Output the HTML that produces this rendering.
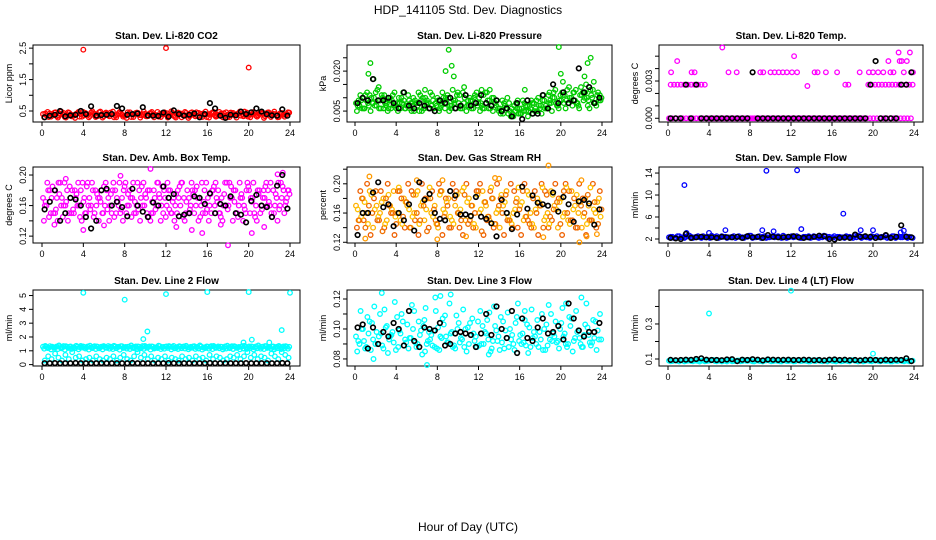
<!DOCTYPE html>
<html><head><meta charset="utf-8">
<style>
html,body{margin:0;padding:0;background:#fff;}
svg{display:block;font-family:"Liberation Sans",sans-serif;}
</style></head>
<body>
<svg id="chart" width="936" height="540" viewBox="0 0 936 540">
<text x="468" y="14" text-anchor="middle" font-size="12">HDP_141105  Std. Dev. Diagnostics</text>
<text x="468" y="531" text-anchor="middle" font-size="12">Hour of Day (UTC)</text>
</svg>
<script>
const xTicks=[0,4,8,12,16,20,24];
const co2A=[0.40,0.36,0.42,0.38,0.33,0.41,0.44,0.37,0.39,0.35,0.43,0.40,0.36,0.38,0.45,0.41,0.34,0.39,0.42,0.37,0.40,0.36,0.43,0.38,0.35,0.41,0.39,0.44,0.37,0.40,0.33,0.42,0.38,0.36,0.41,0.39,0.43,0.37,0.35,0.40,0.42,0.38,0.36,0.44,0.39,0.34,0.41,0.37,0.40,0.43,0.36,0.38,0.42,0.35,0.39,0.41,0.37,0.44,0.40,0.36,0.38,0.42,0.35,0.40,0.43,0.37,0.39,0.41,0.36,0.42,0.38,0.40];
const co2B=[0.30,0.47,0.32,0.45,0.29,0.48,0.31,0.46,0.33,0.28,0.47,0.32,0.44,0.30,0.49,0.31,0.46,0.29,0.45,0.33,0.48,0.30,0.47,0.32,0.28,0.46,0.31,0.45,0.29,0.48,0.33,0.44,0.30,0.47,0.31,0.46,0.29,0.49,0.32,0.45,0.30,0.47,0.28,0.46,0.33,0.44,0.31,0.48,0.29,0.45,0.32,0.47,0.30,0.46,0.31,0.44,0.29,0.48,0.33,0.45,0.30,0.47,0.32,0.46,0.28,0.45,0.31,0.48,0.30,0.44,0.32,0.46];
const co2C=[0.42,0.31,0.38,0.46,0.35,0.40,0.29,0.44,0.37,0.41,0.32,0.47,0.39,0.34,0.43,0.36,0.48,0.33,0.40,0.45,0.30,0.38,0.42,0.35,0.46,0.31,0.39,0.44,0.36,0.41,0.34,0.47,0.38,0.32,0.43,0.40,0.35,0.45,0.29,0.41,0.37,0.44,0.33,0.39,0.46,0.36,0.42,0.31,0.38,0.47,0.34,0.40,0.43,0.30,0.45,0.37,0.41,0.35,0.48,0.32,0.39,0.44,0.36,0.42,0.33,0.46,0.38,0.40,0.31,0.43,0.37,0.45];
const co2OutH=[4,12,20];
const co2OutV=[2.45,2.5,1.88];
const co2Black=[0.30,0.35,0.38,0.50,0.33,0.36,0.38,0.50,0.40,0.65,0.35,0.37,0.38,0.40,0.66,0.58,0.38,0.40,0.42,0.62,0.36,0.35,0.34,0.45,0.32,0.52,0.40,0.35,0.38,0.42,0.30,0.40,0.75,0.58,0.35,0.28,0.38,0.36,0.48,0.40,0.46,0.58,0.48,0.40,0.36,0.35,0.55,0.35];

const prA=[0.008,0.007,0.010,0.009,0.011,0.008,0.007,0.009,0.006,0.008,0.010,0.007,0.008,0.006,0.009,0.007,0.008,0.005,0.007,0.009,0.006,0.008,0.007,0.005,0.009,0.008,0.006,0.010,0.007,0.009,0.008,0.006,0.011,0.007,0.009,0.008,0.010,0.006,0.008,0.009,0.005,0.007,0.006,0.004,0.006,0.005,0.003,0.006,0.004,0.005,0.007,0.006,0.008,0.005,0.007,0.009,0.006,0.008,0.010,0.007,0.009,0.011,0.008,0.010,0.009,0.007,0.011,0.012,0.009,0.010,0.008,0.009];
const prB=[0.005,0.011,0.006,0.012,0.005,0.010,0.013,0.006,0.011,0.005,0.006,0.012,0.005,0.010,0.006,0.011,0.005,0.009,0.012,0.005,0.010,0.006,0.011,0.008,0.005,0.012,0.010,0.005,0.013,0.006,0.011,0.012,0.005,0.010,0.006,0.012,0.005,0.011,0.012,0.006,0.010,0.009,0.004,0.008,0.010,0.003,0.007,0.009,0.004,0.008,0.003,0.009,0.005,0.010,0.004,0.006,0.011,0.005,0.013,0.006,0.012,0.006,0.014,0.007,0.013,0.006,0.012,0.015,0.006,0.013,0.007,0.011];
const prC=[0.007,0.009,0.006,0.008,0.010,0.007,0.009,0.011,0.008,0.006,0.009,0.007,0.010,0.008,0.006,0.009,0.007,0.008,0.005,0.010,0.008,0.006,0.009,0.007,0.006,0.010,0.008,0.007,0.009,0.011,0.006,0.008,0.007,0.009,0.010,0.007,0.008,0.006,0.009,0.007,0.008,0.006,0.005,0.007,0.004,0.006,0.005,0.004,0.006,0.007,0.005,0.008,0.006,0.007,0.009,0.007,0.008,0.010,0.008,0.009,0.011,0.009,0.010,0.012,0.008,0.011,0.009,0.010,0.013,0.008,0.011,0.009];
const prD=[0.009,0.006,0.011,0.007,0.008,0.012,0.006,0.010,0.007,0.009,0.011,0.006,0.008,0.012,0.007,0.006,0.010,0.008,0.011,0.006,0.009,0.012,0.006,0.010,0.007,0.009,0.011,0.006,0.008,0.012,0.007,0.010,0.009,0.006,0.011,0.008,0.007,0.012,0.006,0.010,0.008,0.005,0.009,0.006,0.008,0.004,0.008,0.006,0.009,0.005,0.007,0.004,0.009,0.006,0.011,0.006,0.009,0.012,0.007,0.011,0.008,0.013,0.009,0.012,0.008,0.014,0.010,0.007,0.011,0.008,0.012,0.010];
const prOutH=[1.3,1.5,1.8,2.3,6.8,8.8,9.1,9.4,9.6,10.6,12.3,13.1,16.5,18.9,19.8,20.0,20.2,22.3,22.6,22.9,23.2];
const prOutV=[0.019,0.023,0.017,0.014,0.013,0.020,0.028,0.022,0.018,0.014,0.013,0.013,0.013,0.012,0.029,0.019,0.016,0.018,0.023,0.025,0.016];
const prBlack=[0.008,0.010,0.009,0.017,0.009,0.009,0.010,0.008,0.006,0.012,0.007,0.006,0.008,0.007,0.006,0.005,0.009,0.008,0.010,0.006,0.007,0.011,0.007,0.008,0.011,0.008,0.007,0.009,0.005,0.006,0.003,0.008,0.002,0.009,0.004,0.004,0.011,0.006,0.015,0.008,0.012,0.008,0.009,0.021,0.012,0.014,0.008,0.010];

const tmA=[0,0,0,0,0,0,0,0,0,0,0,0,0,0,0,0,0,0,0,0,0,0,0,0,0,0,0,0,0,0,0,0,0,0,0,0,0,0,0,0,0,0,0,0,0,0,0,0,0,0,0,0,0,0,0,0,0,0,0,0,0,0,0,0,0,0,0,0,0,0,0,0];
const tmB=[0.0027,0.0027,0.0027,0.0027,0.0027,0.0027,0.0027,0.0027,0.0027,0.0027,0.0027,0,0,0,0,0,0,0,0,0,0,0,0,0,0,0,0,0,0,0,0,0,0,0,0,0,0,0,0,0,0,0,0,0,0,0,0,0,0,0,0,0,0,0,0,0,0,0,0.0027,0.0027,0.0027,0.0027,0.0027,0.0027,0.0027,0.0027,0.0027,0.0027,0.0027,0.0027,0.0027,0.0027];
const tmOutH=[0.3,0.9,2.3,2.6,5.3,5.9,6.7,9.0,9.3,10.0,10.4,10.8,11.2,11.6,12.1,12.3,12.6,13.6,14.3,14.6,15.4,16.5,17.3,17.6,18.7,19.6,20.0,20.5,21.0,21.5,21.7,22.0,22.5,22.8,23.0,23.3,23.6,23.9,22.6];
const tmOutV=[0.0037,0.0046,0.0037,0.0037,0.0057,0.0037,0.0037,0.0037,0.0037,0.0037,0.0037,0.0037,0.0037,0.0037,0.0037,0.0050,0.0037,0.0026,0.0037,0.0037,0.0037,0.0037,0.0027,0.0027,0.0037,0.0037,0.0037,0.0037,0.0037,0.0046,0.0037,0.0037,0.0053,0.0046,0.0037,0.0046,0.0053,0.0037,0.0046];
const tmBlack=[0,0,0,0.0027,0,0.0027,0,0,0,0,0,0,0,0,0,0,0.0037,0,0,0,0,0,0,0,0,0,0,0,0,0,0,0,0,0,0,0,0,0,0,0.0027,0.0046,0,0,0,0,0.0027,0.0027,0.0037];

const amA=[0.17,0.16,0.18,0.15,0.17,0.19,0.16,0.18,0.17,0.15,0.16,0.18,0.17,0.19,0.16,0.15,0.17,0.18,0.16,0.17,0.15,0.18,0.16,0.17,0.19,0.16,0.17,0.15,0.18,0.16,0.17,0.18,0.15,0.16,0.17,0.15,0.16,0.18,0.17,0.15,0.16,0.17,0.18,0.16,0.15,0.17,0.16,0.18,0.17,0.15,0.16,0.18,0.17,0.19,0.16,0.17,0.18,0.16,0.17,0.15,0.18,0.17,0.16,0.18,0.17,0.19,0.16,0.18,0.17,0.16,0.18,0.17];
const amB=[0.14,0.19,0.15,0.18,0.14,0.16,0.19,0.14,0.15,0.18,0.19,0.14,0.15,0.16,0.19,0.18,0.14,0.15,0.19,0.14,0.18,0.15,0.19,0.14,0.15,0.18,0.19,0.16,0.14,0.19,0.15,0.14,0.18,0.19,0.14,0.18,0.19,0.15,0.14,0.18,0.19,0.14,0.15,0.19,0.18,0.14,0.19,0.15,0.14,0.18,0.19,0.15,0.14,0.16,0.19,0.14,0.15,0.19,0.14,0.18,0.15,0.19,0.14,0.15,0.18,0.16,0.19,0.15,0.14,0.19,0.15,0.18];
const amC=[0.16,0.18,0.17,0.15,0.19,0.17,0.16,0.15,0.18,0.17,0.16,0.19,0.15,0.17,0.18,0.16,0.17,0.15,0.18,0.16,0.19,0.17,0.15,0.18,0.16,0.17,0.15,0.19,0.17,0.16,0.18,0.15,0.17,0.19,0.16,0.17,0.18,0.15,0.16,0.17,0.19,0.15,0.17,0.18,0.16,0.17,0.15,0.19,0.16,0.18,0.17,0.15,0.16,0.19,0.17,0.18,0.15,0.17,0.16,0.19,0.17,0.15,0.18,0.16,0.17,0.18,0.15,0.16,0.19,0.17,0.16,0.18];
const amD=[0.165,0.145,0.185,0.155,0.175,0.145,0.165,0.185,0.155,0.175,0.145,0.165,0.185,0.155,0.145,0.175,0.165,0.185,0.155,0.175,0.145,0.165,0.155,0.185,0.175,0.145,0.165,0.155,0.185,0.175,0.145,0.165,0.155,0.175,0.185,0.145,0.155,0.165,0.175,0.185,0.145,0.165,0.155,0.175,0.185,0.145,0.165,0.155,0.175,0.185,0.165,0.145,0.175,0.155,0.185,0.165,0.145,0.175,0.155,0.185,0.165,0.145,0.175,0.155,0.185,0.165,0.145,0.175,0.155,0.185,0.165,0.175];
const amOutH=[1.2,4.0,6.0,10.5,13.0,14.5,15.5,17.3,18.0,20.3,21.5,22.8,23.3,2.3,7.6];
const amOutV=[0.135,0.128,0.134,0.208,0.132,0.128,0.124,0.135,0.108,0.124,0.132,0.201,0.203,0.195,0.199];
const amBlack=[0.155,0.165,0.180,0.140,0.150,0.170,0.168,0.160,0.145,0.130,0.140,0.180,0.182,0.160,0.165,0.158,0.146,0.182,0.160,0.152,0.145,0.164,0.160,0.185,0.170,0.175,0.146,0.148,0.150,0.172,0.170,0.162,0.176,0.150,0.162,0.160,0.172,0.150,0.148,0.138,0.166,0.174,0.160,0.158,0.145,0.186,0.200,0.156];

const rhA=[0.17,0.15,0.18,0.16,0.19,0.14,0.17,0.16,0.18,0.15,0.17,0.19,0.16,0.15,0.18,0.17,0.14,0.16,0.19,0.17,0.15,0.18,0.16,0.17,0.14,0.19,0.16,0.18,0.15,0.17,0.16,0.19,0.15,0.18,0.17,0.14,0.16,0.19,0.17,0.15,0.18,0.16,0.14,0.17,0.19,0.15,0.16,0.18,0.17,0.15,0.19,0.16,0.14,0.18,0.17,0.15,0.16,0.19,0.17,0.14,0.18,0.16,0.15,0.19,0.17,0.16,0.14,0.18,0.17,0.15,0.16,0.18];
const rhB=[0.14,0.19,0.15,0.20,0.13,0.18,0.15,0.19,0.14,0.20,0.16,0.13,0.19,0.18,0.14,0.20,0.19,0.15,0.13,0.20,0.18,0.14,0.19,0.15,0.20,0.13,0.18,0.14,0.20,0.19,0.14,0.13,0.20,0.15,0.14,0.19,0.20,0.13,0.15,0.19,0.14,0.20,0.18,0.13,0.15,0.20,0.19,0.14,0.13,0.20,0.15,0.14,0.19,0.13,0.20,0.19,0.14,0.15,0.20,0.18,0.13,0.20,0.19,0.15,0.14,0.20,0.18,0.13,0.15,0.20,0.14,0.19];
const rhC=[0.165,0.155,0.175,0.145,0.185,0.165,0.155,0.175,0.145,0.185,0.165,0.155,0.195,0.145,0.175,0.165,0.155,0.185,0.145,0.175,0.165,0.195,0.155,0.145,0.185,0.165,0.175,0.155,0.145,0.185,0.165,0.195,0.175,0.155,0.145,0.185,0.165,0.175,0.155,0.195,0.145,0.165,0.185,0.175,0.155,0.145,0.165,0.195,0.175,0.155,0.185,0.145,0.165,0.175,0.195,0.155,0.145,0.185,0.165,0.175,0.155,0.195,0.145,0.165,0.185,0.175,0.155,0.145,0.195,0.165,0.175,0.155];
const rhD=[0.150,0.180,0.140,0.170,0.160,0.190,0.150,0.135,0.180,0.170,0.160,0.145,0.190,0.155,0.175,0.140,0.185,0.160,0.150,0.170,0.135,0.180,0.165,0.145,0.190,0.155,0.170,0.140,0.180,0.160,0.150,0.185,0.145,0.170,0.160,0.190,0.135,0.175,0.155,0.180,0.145,0.170,0.160,0.185,0.150,0.140,0.175,0.165,0.190,0.155,0.145,0.180,0.160,0.170,0.140,0.185,0.155,0.165,0.175,0.145,0.190,0.160,0.150,0.180,0.140,0.170,0.160,0.185,0.150,0.175,0.145,0.165];
const rhOutH=[1.0,1.4,8.0,8.5,10.8,13.6,14.0,18.3,18.8,21.8,22.5,23.5,22.0,6.0];
const rhOutV=[0.125,0.210,0.124,0.205,0.128,0.208,0.207,0.127,0.225,0.120,0.128,0.131,0.205,0.205];
const rhBlack=[0.130,0.160,0.160,0.188,0.202,0.168,0.172,0.142,0.160,0.150,0.172,0.136,0.202,0.178,0.186,0.160,0.152,0.150,0.190,0.184,0.158,0.158,0.156,0.182,0.155,0.152,0.146,0.128,0.178,0.160,0.138,0.158,0.196,0.166,0.184,0.174,0.172,0.170,0.188,0.162,0.182,0.172,0.148,0.176,0.178,0.173,0.144,0.165];

const sfA=[2.3,2.4,2.2,2.5,2.3,2.4,2.6,2.2,2.4,2.3,2.5,2.3,2.2,2.4,2.5,2.3,2.4,2.2,2.3,2.5,2.4,2.3,2.2,2.4,2.6,2.3,2.4,2.2,2.5,2.3,2.4,2.3,2.5,2.2,2.4,2.3,2.5,2.4,2.3,2.2,2.4,2.5,2.3,2.4,2.2,2.3,2.5,2.4,2.3,2.2,2.4,2.3,2.5,2.4,2.2,2.3,2.5,2.4,2.3,2.2,2.4,2.5,2.3,2.4,2.2,2.3,2.5,2.4,2.3,2.4,2.2,2.3];
const sfC=[2.4,2.2,2.5,2.3,2.2,2.6,2.4,2.3,2.5,2.2,2.3,2.4,2.6,2.3,2.2,2.5,2.4,2.3,2.4,2.2,2.5,2.3,2.4,2.6,2.2,2.3,2.5,2.4,2.2,2.3,2.5,2.4,2.3,2.6,2.2,2.4,2.3,2.5,2.2,2.4,2.3,2.2,2.5,2.3,2.4,2.6,2.2,2.3,2.5,2.4,2.3,2.2,2.4,2.3,2.5,2.6,2.2,2.4,2.3,2.5,2.2,2.3,2.4,2.6,2.3,2.5,2.2,2.4,2.3,2.5,2.4,2.2];
const sfOutH=[1.6,1.8,4.0,5.6,9.2,10.3,9.6,12.6,13.0,17.1,18.8,20.0,22.7,23.0];
const sfOutV=[11.8,3.1,3.1,3.6,3.6,3.4,14.4,14.5,3.8,6.6,3.6,3.6,3.2,3.5];
const sfBlack=[2.2,2.1,2.0,2.9,2.2,2.3,2.4,2.3,2.3,2.2,2.4,2.3,2.3,2.4,2.2,2.5,2.3,2.4,2.2,2.7,2.4,2.3,2.3,2.4,2.5,2.3,2.2,2.3,2.4,2.6,2.5,2.0,1.9,2.2,2.3,2.2,2.8,2.4,2.5,2.4,2.2,2.3,2.7,2.2,2.4,4.5,2.4,2.3];

const l2Band=[1.30,1.28,1.33,1.25,1.31,1.27,1.34,1.29,1.32,1.26,1.30,1.35,1.28,1.31,1.25,1.33,1.29,1.30,1.27,1.34,1.26,1.31,1.29,1.33,1.28,1.30,1.25,1.32,1.29,1.34,1.27,1.31,1.30,1.26,1.33,1.28,1.31,1.29,1.35,1.27,1.30,1.32,1.26,1.29,1.33,1.28,1.31,1.25,1.30,1.34,1.27,1.32,1.29,1.31,1.26,1.33,1.30,1.28,1.34,1.27,1.31,1.29,1.32,1.26,1.30,1.33,1.28,1.31,1.29,1.27,1.32,1.30];
const l2Band2=[1.15,1.20,1.10,1.22,1.12,1.18,1.08,1.21,1.14,1.19,1.11,1.23,1.16,1.09,1.20,1.13,1.18,1.10,1.22,1.15,1.12,1.19,1.08,1.21,1.16,1.13,1.20,1.11,1.18,1.14,1.22,1.09,1.17,1.20,1.12,1.15,1.21,1.10,1.18,1.13,1.19,1.16,1.11,1.22,1.14,1.17,1.09,1.20,1.15,1.12,1.21,1.18,1.10,1.16,1.19,1.13,1.22,1.11,1.17,1.14,1.20,1.09,1.18,1.15,1.12,1.21,1.16,1.10,1.19,1.13,1.20,1.15];
const l2Band3=[1.35,1.22,1.30,1.27,1.38,1.24,1.33,1.29,1.21,1.36,1.26,1.31,1.23,1.37,1.28,1.32,1.25,1.34,1.22,1.30,1.36,1.27,1.33,1.24,1.29,1.38,1.26,1.32,1.23,1.35,1.28,1.31,1.22,1.37,1.25,1.30,1.34,1.27,1.21,1.33,1.29,1.36,1.24,1.31,1.26,1.38,1.23,1.32,1.28,1.35,1.25,1.30,1.22,1.37,1.27,1.33,1.24,1.29,1.36,1.26,1.31,1.23,1.38,1.28,1.34,1.25,1.30,1.22,1.35,1.27,1.33,1.29];
const l2Low=[0.3,0.6,0.4,0.8,0.5,0.3,0.7,0.4,0.9,0.5,0.6,0.3,0.4,0.5,0.3,0.6,0.4,0.3,0.5,0.4,0.6,0.3,0.5,0.7,0.4,0.3,0.6,0.9,0.5,0.7,0.4,0.6,0.3,0.5,0.4,0.6,0.3,0.5,0.4,0.3,0.6,0.4,0.5,0.3,0.6,0.4,0.5,0.3,0.7,0.4,0.6,0.5,0.3,0.4,0.6,0.5,0.7,0.4,0.6,0.9,0.5,0.7,0.4,0.6,0.5,0.3,0.8,0.6,0.4,0.9,0.7,0.5];
const l2OutH=[4.0,8.0,12.0,16.0,20.0,24.0,10.2,9.8,23.2,20.3,19.5,22.0];
const l2OutV=[5.2,4.7,5.1,5.25,5.25,5.2,2.4,1.85,2.5,1.8,1.6,1.6];
const l2Black=[0.1,0.1,0.11,0.1,0.1,0.1,0.12,0.1,0.1,0.1,0.1,0.11,0.1,0.1,0.1,0.1,0.1,0.12,0.1,0.1,0.1,0.1,0.1,0.1,0.11,0.1,0.1,0.1,0.1,0.1,0.1,0.1,0.12,0.1,0.1,0.1,0.1,0.1,0.1,0.11,0.1,0.1,0.1,0.1,0.1,0.1,0.12,0.1];

const l3A=[0.095,0.090,0.100,0.088,0.105,0.093,0.098,0.110,0.087,0.102,0.095,0.091,0.108,0.097,0.089,0.103,0.094,0.112,0.090,0.099,0.106,0.092,0.096,0.088,0.101,0.094,0.109,0.091,0.098,0.087,0.104,0.093,0.100,0.090,0.107,0.095,0.089,0.102,0.097,0.111,0.092,0.099,0.086,0.105,0.094,0.100,0.090,0.108,0.096,0.091,0.103,0.088,0.098,0.106,0.093,0.100,0.089,0.110,0.095,0.092,0.104,0.097,0.090,0.107,0.094,0.099,0.088,0.103,0.096,0.091,0.105,0.093];
const l3B=[0.085,0.112,0.092,0.108,0.086,0.115,0.090,0.097,0.113,0.084,0.096,0.118,0.088,0.110,0.093,0.087,0.116,0.091,0.105,0.083,0.114,0.098,0.089,0.112,0.086,0.107,0.095,0.117,0.088,0.109,0.091,0.113,0.085,0.104,0.097,0.088,0.112,0.090,0.106,0.085,0.115,0.092,0.108,0.087,0.111,0.093,0.086,0.117,0.090,0.106,0.084,0.113,0.095,0.088,0.110,0.086,0.116,0.092,0.105,0.087,0.114,0.090,0.108,0.085,0.112,0.094,0.088,0.117,0.091,0.106,0.086,0.110];
const l3C=[0.092,0.100,0.087,0.097,0.104,0.090,0.095,0.089,0.101,0.093,0.098,0.086,0.099,0.105,0.091,0.094,0.100,0.088,0.096,0.102,0.090,0.093,0.099,0.087,0.095,0.103,0.091,0.097,0.089,0.100,0.094,0.088,0.101,0.096,0.092,0.105,0.090,0.098,0.093,0.087,0.102,0.095,0.091,0.099,0.088,0.096,0.104,0.092,0.097,0.089,0.101,0.094,0.090,0.098,0.086,0.103,0.093,0.097,0.091,0.100,0.095,0.088,0.102,0.092,0.098,0.090,0.096,0.101,0.089,0.094,0.099,0.093];
const l3OutH=[2.6,1.8,7.0,7.8,8.3,9.3,6.8,13.0,20.5,22.0,16.5];
const l3OutV=[0.124,0.080,0.076,0.121,0.122,0.123,0.085,0.083,0.117,0.121,0.112];
const l3Black=[0.101,0.103,0.087,0.101,0.090,0.098,0.095,0.104,0.100,0.089,0.112,0.092,0.088,0.101,0.100,0.099,0.104,0.089,0.090,0.097,0.098,0.097,0.096,0.088,0.097,0.110,0.096,0.115,0.100,0.094,0.112,0.084,0.107,0.094,0.092,0.101,0.107,0.097,0.098,0.102,0.093,0.117,0.107,0.099,0.095,0.098,0.098,0.104];

const l4A=[0.090,0.088,0.092,0.086,0.091,0.089,0.093,0.087,0.090,0.085,0.092,0.088,0.091,0.094,0.087,0.090,0.089,0.086,0.092,0.088,0.091,0.087,0.093,0.089,0.090,0.086,0.092,0.088,0.091,0.094,0.087,0.090,0.089,0.086,0.092,0.088,0.091,0.087,0.093,0.089,0.090,0.086,0.092,0.088,0.091,0.087,0.090,0.094,0.089,0.086,0.092,0.088,0.091,0.087,0.093,0.089,0.090,0.086,0.092,0.088,0.091,0.094,0.087,0.090,0.089,0.086,0.092,0.088,0.091,0.087,0.090,0.089];
const l4B=[0.087,0.091,0.089,0.093,0.086,0.090,0.088,0.092,0.089,0.091,0.087,0.090,0.093,0.088,0.091,0.086,0.090,0.092,0.087,0.089,0.091,0.088,0.090,0.093,0.087,0.091,0.089,0.086,0.092,0.090,0.088,0.091,0.087,0.093,0.089,0.090,0.086,0.092,0.088,0.091,0.089,0.087,0.090,0.093,0.088,0.091,0.086,0.092,0.089,0.090,0.087,0.091,0.088,0.093,0.090,0.086,0.092,0.089,0.091,0.087,0.090,0.088,0.093,0.089,0.091,0.086,0.090,0.092,0.088,0.091,0.087,0.090];
const l4OutH=[4,12,20];
const l4OutV=[0.36,0.49,0.13];
const l4Black=[0.095,0.093,0.094,0.096,0.095,0.100,0.104,0.096,0.094,0.094,0.093,0.097,0.099,0.088,0.096,0.094,0.099,0.096,0.092,0.097,0.096,0.095,0.095,0.096,0.094,0.094,0.096,0.095,0.093,0.094,0.092,0.096,0.097,0.094,0.096,0.093,0.094,0.092,0.095,0.096,0.094,0.092,0.096,0.094,0.096,0.094,0.104,0.088];

const NS="http://www.w3.org/2000/svg";
const svg=document.getElementById('chart');
const colL=[33,347,659], colR=[300,612,923], colX0=[42,355,668], colX24=[290,602,914];
const rowT=[45,167,290], rowB=[122,243,366];

function mk(tag,attrs,parent){const e=document.createElementNS(NS,tag);for(const k in attrs)e.setAttribute(k,attrs[k]);(parent||svg).appendChild(e);return e;}

function panel(key,col,row,title,ylab,ymin,ymax,yt,ytLab){
  const g=mk('g',{});
  
  
  const L=colL[col],R=colR[col],T=rowT[row],B=rowB[row];
  const xs=h=>colX0[col]+h/24*(colX24[col]-colX0[col]);
  const ys=v=>B-(v-ymin)/(ymax-ymin)*(B-T);
  const box=mk('rect',{x:L,y:T,width:R-L,height:B-T,fill:'none',stroke:'#000','stroke-width':1},g);
  
  
  const tt=mk('text',{x:(L+R)/2,y:T-6,'text-anchor':'middle','font-size':10,'font-weight':'bold'},g);
  tt.textContent=title;
  
  
  xTicks.forEach(h=>{
    const x=xs(h);
    mk('line',{x1:x,x2:x,y1:B,y2:B+4,stroke:'#000'},g);
    const t=mk('text',{x:x,y:B+14,'text-anchor':'middle','font-size':9},g);
    t.textContent=h;
    
    
  });
  yt.forEach((v,i)=>{
    const y=ys(v);
    mk('line',{x1:L-4,x2:L,y1:y,y2:y,stroke:'#000'},g);
    if(ytLab[i]!==''){
      const t=mk('text',{x:0,y:0,'text-anchor':'middle','font-size':9,transform:`translate(${L-7},${y}) rotate(-90)`},g);
      t.textContent=ytLab[i];
      
      
    }
  });
  const yl=mk('text',{x:0,y:0,'text-anchor':'middle','font-size':9,transform:`translate(${L-21},${(T+B)/2}) rotate(-90)`},g);
  yl.textContent=ylab;
  
  
  return {g,xs,ys};
}
function pts(p,hours,vals,color,sw,name){
  const g=mk('g',{fill:'none',stroke:color,'stroke-width':sw},p.g);
  
  
  vals.forEach((v,i)=>{
    mk('circle',{cx:p.xs(hours[i]).toFixed(1),cy:p.ys(v).toFixed(1),r:2.3},g);
  });
}
function seqHours(n,off){const a=[];const st=23.6/(n-1);for(let i=0;i<n;i++)a.push(0.1+(i+off)*st);return a;}
function halfHours(n){const a=[];for(let i=0;i<n;i++)a.push(0.25+i*0.5);return a;}
function dense(p,vals,color,name,off){pts(p,seqHours(vals.length,off||0),vals,color,1.3,name);}
function black(p,vals,name){pts(p,halfHours(vals.length),vals,'#000',1.6,name);}

let p;
p=panel('co2',0,0,'Stan. Dev. Li-820 CO2','Licor ppm',0.15,2.6,[0.5,1,1.5,2,2.5],['0.5','','1.5','','2.5']);
dense(p,co2A,'#ff0000','co2-series-a',0);dense(p,co2B,'#ff0000','co2-series-b',0.33);dense(p,co2C,'#ff0000','co2-series-c',0.66);
pts(p,co2OutH,co2OutV,'#ff0000',1.3,'co2-outliers');black(p,co2Black,'co2-black-series');

p=panel('pressure',1,0,'Stan. Dev. Li-820 Pressure','kPa',0.0009,0.0298,[0.005,0.010,0.015,0.020,0.025],['0.005','','','0.020','']);
dense(p,prA,'#00cc00','pressure-series-a',0);dense(p,prB,'#00cc00','pressure-series-b',0.25);dense(p,prC,'#00cc00','pressure-series-c',0.5);dense(p,prD,'#00cc00','pressure-series-d',0.75);
pts(p,prOutH,prOutV,'#00cc00',1.3,'pressure-outliers');black(p,prBlack,'pressure-black-series');

p=panel('temp',2,0,'Stan. Dev. Li-820 Temp.','degrees C',-0.0003,0.0059,[0,0.001,0.002,0.003,0.004,0.005],['0.000','','','0.003','','']);
dense(p,tmA,'#ff00ff','temp-series-a',0);dense(p,tmB,'#ff00ff','temp-series-b',0.5);
pts(p,tmOutH,tmOutV,'#ff00ff',1.3,'temp-outliers');black(p,tmBlack,'temp-black-series');

p=panel('ambbox',0,1,'Stan. Dev. Amb. Box Temp.','degrees C',0.111,0.2105,[0.12,0.14,0.16,0.18,0.20],['0.12','','0.16','','0.20']);
dense(p,amA,'#ff00ff','ambbox-series-a',0);dense(p,amB,'#ff00ff','ambbox-series-b',0.25);dense(p,amC,'#ff00ff','ambbox-series-c',0.5);dense(p,amD,'#ff00ff','ambbox-series-d',0.75);
pts(p,amOutH,amOutV,'#ff00ff',1.3,'ambbox-outliers');black(p,amBlack,'ambbox-black-series');

p=panel('rh',1,1,'Stan. Dev. Gas Stream RH','percent',0.119,0.223,[0.12,0.14,0.16,0.18,0.20,0.22],['0.12','','0.16','','0.20','']);
dense(p,rhA,'#ffb000','rh-series-a',0);dense(p,rhB,'#ee6000','rh-series-b',0.25);dense(p,rhC,'#ffc000','rh-series-c',0.5);dense(p,rhD,'#f07000','rh-series-d',0.75);
pts(p,rhOutH,rhOutV,'#ff9a00',1.3,'rh-outliers');black(p,rhBlack,'rh-black-series');

p=panel('sampleflow',2,1,'Stan. Dev. Sample Flow','ml/min',1.27,15.1,[2,4,6,8,10,12,14],['2','','6','','10','','14']);
dense(p,sfA,'#0000ff','sampleflow-series-a',0);dense(p,sfC,'#0000ff','sampleflow-series-c',0.5);
pts(p,sfOutH,sfOutV,'#0000ff',1.3,'sampleflow-outliers');black(p,sfBlack,'sampleflow-black-series');

p=panel('line2',0,2,'Stan. Dev. Line 2 Flow','ml/min',-0.1,5.4,[0,1,2,3,4,5],['0','1','2','3','4','5']);
dense(p,l2Band,'#00ffff','line2-band',0);dense(p,l2Band2,'#00ffff','line2-band-lower',0.33);dense(p,l2Band3,'#00ffff','line2-band-upper',0.66);dense(p,l2Low,'#00ffff','line2-low-scatter',0.5);
pts(p,l2OutH,l2OutV,'#00ffff',1.3,'line2-outliers');black(p,l2Black,'line2-black-series');

p=panel('line3',1,2,'Stan. Dev. Line 3 Flow','ml/min',0.0753,0.126,[0.08,0.09,0.10,0.11,0.12],['0.08','','0.10','','0.12']);
dense(p,l3A,'#00ffff','line3-series-a',0);dense(p,l3B,'#00ffff','line3-series-b',0.33);dense(p,l3C,'#00ffff','line3-series-c',0.66);
pts(p,l3OutH,l3OutV,'#00ffff',1.3,'line3-outliers');black(p,l3Black,'line3-black-series');

p=panel('line4',2,2,'Stan. Dev. Line 4 (LT) Flow','ml/min',0.06,0.494,[0.1,0.2,0.3,0.4],['0.1','','0.3','']);
dense(p,l4A,'#00ffff','line4-series-a',0);dense(p,l4B,'#00ffff','line4-series-b',0.5);
pts(p,l4OutH,l4OutV,'#00ffff',1.3,'line4-outliers');black(p,l4Black,'line4-black-series');
</script>
</body></html>
